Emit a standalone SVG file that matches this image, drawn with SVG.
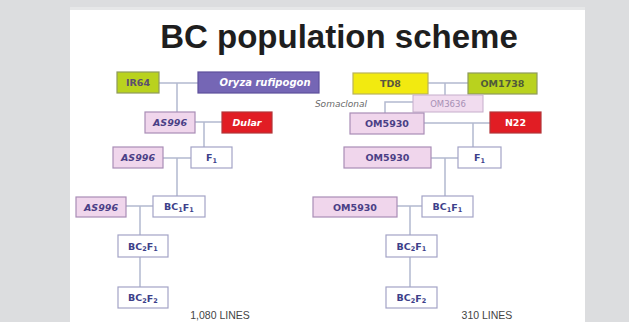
<svg xmlns="http://www.w3.org/2000/svg" width="629" height="322" viewBox="0 0 629 322">
<style>
text{font-family:"Liberation Sans",Arial,sans-serif;text-anchor:middle;dominant-baseline:central}
.lbl{font-family:"DejaVu Sans","Liberation Sans",sans-serif;font-size:9.5px;font-weight:bold}
.sub{font-size:6.5px}
.lime{fill:#b9d21e;stroke:#8e9a5c;stroke-width:1.2}
.purp{fill:#7566b5;stroke:#5d4f9c;stroke-width:1.2}
.red{fill:#e11d24;stroke:#b3363a;stroke-width:1.2}
.yel{fill:#f2ea10;stroke:#b9b35a;stroke-width:1.2}
.pink{fill:#f0d6ec;stroke:#a98db6;stroke-width:1.2}
.pale{fill:#f1dcef;stroke:#c6aecb;stroke-width:1}
.wht{fill:#ffffff;stroke:#a3a3c6;stroke-width:1.2}
.tdk{fill:#4a3f86}
.twh{fill:#ffffff}
.tf{fill:#3d3f8a}
.it{font-style:italic}
.con{fill:none;stroke:#b3b9cf;stroke-width:1.5}
.cnt{font-size:10.5px;fill:#444}
</style>
<rect x="0" y="0" width="629" height="322" fill="#dcdddf"/>
<rect x="70" y="7" width="515" height="3" fill="#e6e7e8"/>
<rect x="70" y="10" width="515" height="312" fill="#ffffff"/>
<text x="339" y="36" style="font-size:33px;font-weight:bold;fill:#1e1e1e">BC population scheme</text>
<g id="connectors" class="con">
<path d="M159,83 H198 M177,83 V112"/>
<path d="M195,122 H222 M204,122 V147"/>
<path d="M163,158 H191 M177,158 V196"/>
<path d="M126,206 H153 M140,206 V287"/>
<path d="M428,83 H468 M445,83 V95"/>
<path d="M413,102 H385 V113"/>
<path d="M424,123 H490 M473,123 V147"/>
<path d="M431,158 H458 M445,158 V196"/>
<path d="M397,206 H422 M410,206 V287"/>
</g>
<g id="IR64"><rect class="lime" x="117" y="72" width="42" height="21"/><text class="lbl" x="138" y="82.5" fill="#5c4f70">IR64</text></g>
<g id="Oryza"><rect class="purp" x="198" y="72" width="121" height="21"/><text class="lbl it twh" x="265" y="82.5" style="font-size:10px">Oryza rufipogon</text></g>
<g id="AS996a"><rect class="pink" x="145" y="112" width="50" height="21"/><text class="lbl it tdk" x="170" y="122.5">AS996</text></g>
<g id="Dular"><rect class="red" x="222" y="112" width="50" height="21"/><text class="lbl it twh" x="247" y="122.5">Dular</text></g>
<g id="AS996b"><rect class="pink" x="113" y="147" width="50" height="21"/><text class="lbl it tdk" x="138" y="157.5">AS996</text></g>
<g id="F1L"><rect class="wht" x="191" y="147" width="41" height="21"/><text class="lbl tf" x="211.5" y="157.5">F<tspan dy="3" class="sub">1</tspan></text></g>
<g id="AS996c"><rect class="pink" x="76" y="197" width="50" height="20"/><text class="lbl it tdk" x="101" y="207">AS996</text></g>
<g id="BC1F1L"><rect class="wht" x="153" y="196" width="52" height="21"/><text class="lbl tf" x="179" y="206.5">BC<tspan dy="3" class="sub">1</tspan><tspan dy="-3">F</tspan><tspan dy="3" class="sub">1</tspan></text></g>
<g id="BC2F1L"><rect class="wht" x="118" y="235" width="50" height="22"/><text class="lbl tf" x="143" y="246">BC<tspan dy="3" class="sub">2</tspan><tspan dy="-3">F</tspan><tspan dy="3" class="sub">1</tspan></text></g>
<g id="BC2F2L"><rect class="wht" x="118" y="287" width="50" height="21"/><text class="lbl tf" x="143" y="297.5">BC<tspan dy="3" class="sub">2</tspan><tspan dy="-3">F</tspan><tspan dy="3" class="sub">2</tspan></text></g>
<g id="TD8"><rect class="yel" x="353" y="73" width="75" height="21"/><text class="lbl" x="390.5" y="83.5" fill="#5a5640">TD8</text></g>
<g id="OM1738"><rect class="lime" x="468" y="73" width="69" height="21"/><text class="lbl" x="502.5" y="83.5" fill="#4f5a3a">OM1738</text></g>
<g id="OM3636"><rect class="pale" x="413" y="95" width="70" height="17"/><text x="448" y="103.5" style="font-family:'DejaVu Sans',sans-serif;font-size:8.5px;fill:#a78fb5">OM3636</text></g>
<text x="341" y="104" class="it" style="font-family:'DejaVu Sans',sans-serif;font-size:9px;fill:#6a6a6a">Somaclonal</text>
<g id="OM5930a"><rect class="pink" x="350" y="113" width="74" height="21"/><text class="lbl tdk" x="387" y="123.5">OM5930</text></g>
<g id="N22"><rect class="red" x="490" y="112" width="51" height="21"/><text class="lbl twh" x="515.5" y="122.5">N22</text></g>
<g id="OM5930b"><rect class="pink" x="344" y="147" width="87" height="21"/><text class="lbl tdk" x="387.5" y="157.5">OM5930</text></g>
<g id="F1R"><rect class="wht" x="458" y="147" width="43" height="21"/><text class="lbl tf" x="479.5" y="157.5">F<tspan dy="3" class="sub">1</tspan></text></g>
<g id="OM5930c"><rect class="pink" x="313" y="197" width="84" height="20"/><text class="lbl tdk" x="355" y="207">OM5930</text></g>
<g id="BC1F1R"><rect class="wht" x="422" y="196" width="51" height="21"/><text class="lbl tf" x="447.5" y="206.5">BC<tspan dy="3" class="sub">1</tspan><tspan dy="-3">F</tspan><tspan dy="3" class="sub">1</tspan></text></g>
<g id="BC2F1R"><rect class="wht" x="386" y="235" width="51" height="22"/><text class="lbl tf" x="411.5" y="246">BC<tspan dy="3" class="sub">2</tspan><tspan dy="-3">F</tspan><tspan dy="3" class="sub">1</tspan></text></g>
<g id="BC2F2R"><rect class="wht" x="386" y="287" width="51" height="21"/><text class="lbl tf" x="411.5" y="297.5">BC<tspan dy="3" class="sub">2</tspan><tspan dy="-3">F</tspan><tspan dy="3" class="sub">2</tspan></text></g>
<text x="220" y="315" class="cnt">1,080 LINES</text>
<text x="487" y="315" class="cnt">310 LINES</text>
</svg>
